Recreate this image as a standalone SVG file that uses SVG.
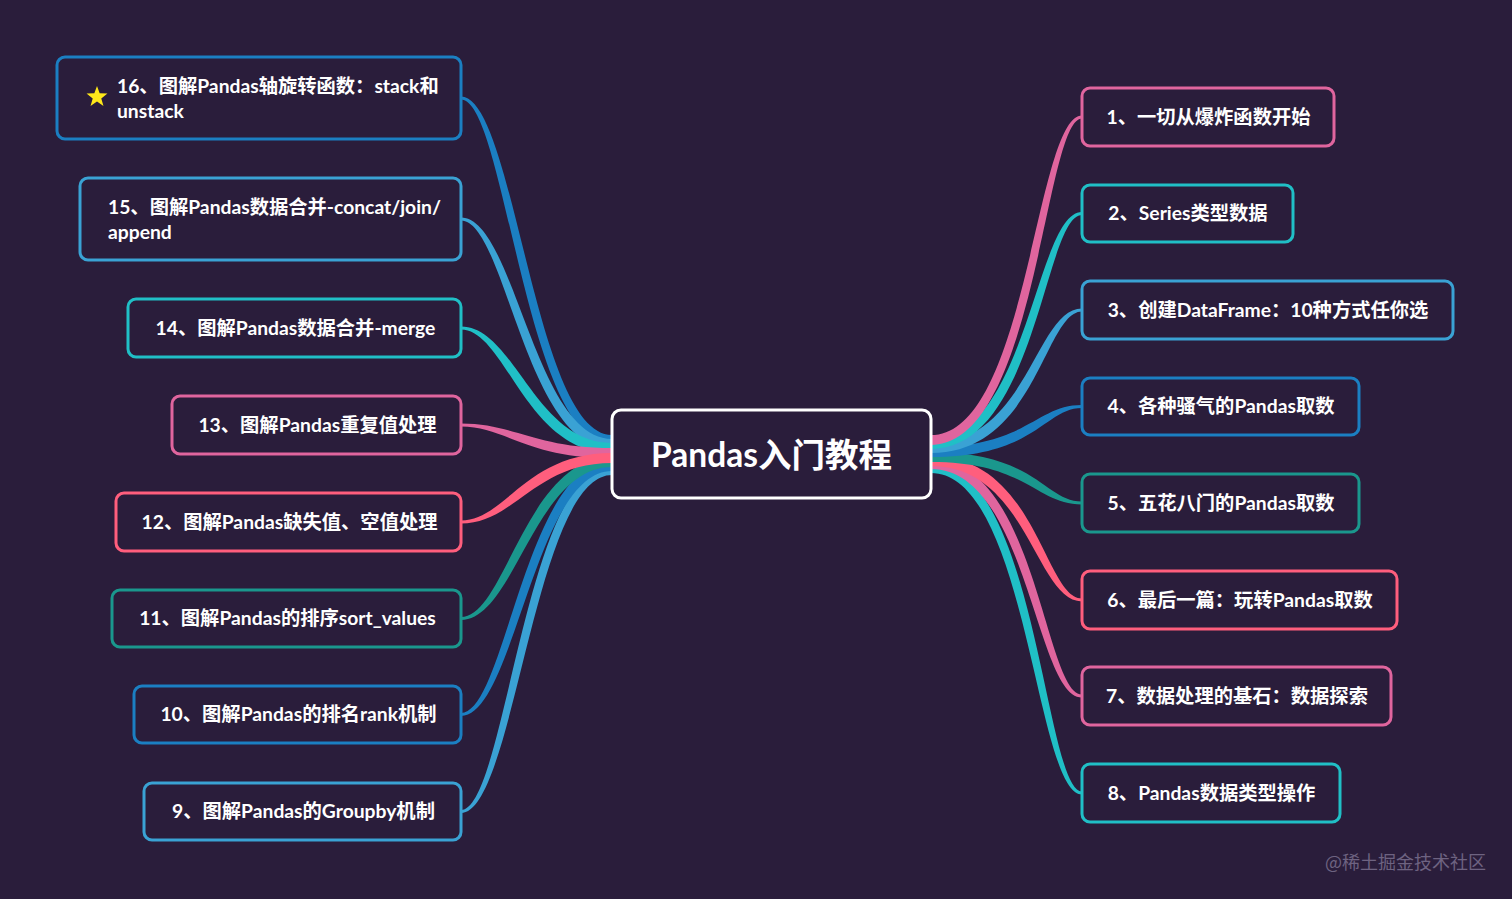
<svg xmlns="http://www.w3.org/2000/svg" width="1512" height="899" viewBox="0 0 1512 899">
<style>
.box{fill:#2a1d3b;stroke-width:3}
.t{font-family:"Lato","Noto Sans CJK SC",sans-serif;font-size:19.3px;font-weight:700;fill:#ffffff}
.c{text-anchor:middle}
.blue{stroke:#1b7fc2}.lblue{stroke:#3aa2d4}.teal{stroke:#20bfc6}.pink{stroke:#e0659e}.red{stroke:#ff5e7d}.dteal{stroke:#1a978d}
.fblue{fill:#1b7fc2}.flblue{fill:#3aa2d4}.fteal{fill:#20bfc6}.fpink{fill:#e0659e}.fred{fill:#ff5e7d}.fdteal{fill:#1a978d}
</style>
<rect x="0" y="0" width="1512" height="899" fill="#2a1d3b"/>
<g id="connectors">
<path class="fblue" d="M461,96.5 C514.5,96.5 534.5,435 612,435 L612,445 C525.5,445 505.5,99.5 461,99.5Z"/>
<path class="flblue" d="M461,217.5 C514.5,217.5 534.5,439 612,439 L612,449 C525.5,449 505.5,220.5 461,220.5Z"/>
<path class="fteal" d="M461,326.5 C514.5,326.5 534.5,443 612,443 L612,453 C525.5,453 505.5,329.5 461,329.5Z"/>
<path class="flblue" d="M461,810 C505.5,810 525.5,465 612,465 L612,475 C534.5,475 514.5,813 461,813Z"/>
<path class="fblue" d="M461,713 C505.5,713 525.5,461 612,461 L612,471 C534.5,471 514.5,716 461,716Z"/>
<path class="fdteal" d="M461,617 C505.5,617 525.5,457 612,457 L612,467 C534.5,467 514.5,620 461,620Z"/>
<path class="fpink" d="M461,423.5 C514.5,423.5 534.5,448 612,448 L612,458 C525.5,458 505.5,426.5 461,426.5Z"/>
<path class="fred" d="M461,520.5 C505.5,520.5 525.5,453 612,453 L612,463 C534.5,463 514.5,523.5 461,523.5Z"/>
<path class="fteal" d="M1082,791.5 C1044.5,791.5 1036.5,463 931,463 L931,473 C1027.5,473 1035.5,794.5 1082,794.5Z"/>
<path class="fpink" d="M1082,694.5 C1044.5,694.5 1036.5,459 931,459 L931,469 C1027.5,469 1035.5,697.5 1082,697.5Z"/>
<path class="fred" d="M1082,598.5 C1044.5,598.5 1036.5,456 931,456 L931,466 C1027.5,466 1035.5,601.5 1082,601.5Z"/>
<path class="fdteal" d="M1082,501.5 C1044.5,501.5 1036.5,452 931,452 L931,462 C1027.5,462 1035.5,504.5 1082,504.5Z"/>
<path class="fblue" d="M1082,405 C1035.5,405 1027.5,447 931,447 L931,457 C1036.5,457 1044.5,408 1082,408Z"/>
<path class="flblue" d="M1082,308.5 C1035.5,308.5 1027.5,443 931,443 L931,453 C1036.5,453 1044.5,311.5 1082,311.5Z"/>
<path class="fteal" d="M1082,212 C1035.5,212 1027.5,439 931,439 L931,449 C1036.5,449 1044.5,215 1082,215Z"/>
<path class="fpink" d="M1082,115.5 C1035.5,115.5 1027.5,435 931,435 L931,445 C1036.5,445 1044.5,118.5 1082,118.5Z"/>
</g>
<g id="center">
<rect x="612" y="410" width="319" height="88" rx="9" fill="#2a1d3b" stroke="#ffffff" stroke-width="3"/>
<text x="771.5" y="467" text-anchor="middle" font-family="Lato,'Noto Sans CJK SC',sans-serif" font-size="33.5" font-weight="700" fill="#ffffff">Pandas入门教程</text>
</g>
<g id="n16">
<rect class="box blue" x="57" y="57" width="404" height="82" rx="8"/>
<polygon fill="#ffe81a" points="97,86 99.65,93.36 107.46,93.6 101.28,98.39 103.47,105.9 97,101.5 90.53,105.9 92.72,98.39 86.54,93.6 94.35,93.36"/>
<text class="t" x="117" y="93">16、图解Pandas轴旋转函数：stack和</text>
<text class="t" x="117" y="118">unstack</text>
</g>
<g id="n15">
<rect class="box lblue" x="80" y="178" width="381" height="82" rx="8"/>
<text class="t" x="108" y="214">15、图解Pandas数据合并-concat/join/</text>
<text class="t" x="108" y="239">append</text>
</g>
<g id="n14">
<rect class="box teal" x="128" y="299" width="333" height="58" rx="8"/>
<text class="t c" x="295.5" y="335">14、图解Pandas数据合并-merge</text>
</g>
<g id="n13">
<rect class="box pink" x="172" y="396" width="289" height="58" rx="8"/>
<text class="t c" x="317.5" y="432">13、图解Pandas重复值处理</text>
</g>
<g id="n12">
<rect class="box red" x="116" y="493" width="345" height="58" rx="8"/>
<text class="t c" x="289.5" y="529">12、图解Pandas缺失值、空值处理</text>
</g>
<g id="n11">
<rect class="box dteal" x="112" y="590" width="349" height="57" rx="8"/>
<text class="t c" x="287.5" y="625">11、图解Pandas的排序sort_values</text>
</g>
<g id="n10">
<rect class="box blue" x="134" y="686" width="327" height="57" rx="8"/>
<text class="t c" x="298.5" y="721">10、图解Pandas的排名rank机制</text>
</g>
<g id="n9">
<rect class="box lblue" x="144" y="783" width="317" height="57" rx="8"/>
<text class="t c" x="303.5" y="818">9、图解Pandas的Groupby机制</text>
</g>
<g id="n1">
<rect class="box pink" x="1082" y="88" width="252" height="58" rx="8"/>
<text class="t c" x="1208.5" y="124">1、一切从爆炸函数开始</text>
</g>
<g id="n2">
<rect class="box teal" x="1082" y="185" width="211" height="57" rx="8"/>
<text class="t c" x="1188" y="220">2、Series类型数据</text>
</g>
<g id="n3">
<rect class="box lblue" x="1082" y="281" width="371" height="58" rx="8"/>
<text class="t c" x="1268" y="317">3、创建DataFrame：10种方式任你选</text>
</g>
<g id="n4">
<rect class="box blue" x="1082" y="378" width="277" height="57" rx="8"/>
<text class="t c" x="1221" y="413">4、各种骚气的Pandas取数</text>
</g>
<g id="n5">
<rect class="box dteal" x="1082" y="474" width="277" height="58" rx="8"/>
<text class="t c" x="1221" y="510">5、五花八门的Pandas取数</text>
</g>
<g id="n6">
<rect class="box red" x="1082" y="571" width="315" height="58" rx="8"/>
<text class="t c" x="1240" y="607">6、最后一篇：玩转Pandas取数</text>
</g>
<g id="n7">
<rect class="box pink" x="1082" y="667" width="309" height="58" rx="8"/>
<text class="t c" x="1237" y="703">7、数据处理的基石：数据探索</text>
</g>
<g id="n8">
<rect class="box teal" x="1082" y="764" width="258" height="58" rx="8"/>
<text class="t c" x="1211.5" y="800">8、Pandas数据类型操作</text>
</g>
<text x="1486" y="869" text-anchor="end" font-family="'Noto Sans CJK SC',sans-serif" font-size="18" fill="#6e6381">@稀土掘金技术社区</text>
</svg>
